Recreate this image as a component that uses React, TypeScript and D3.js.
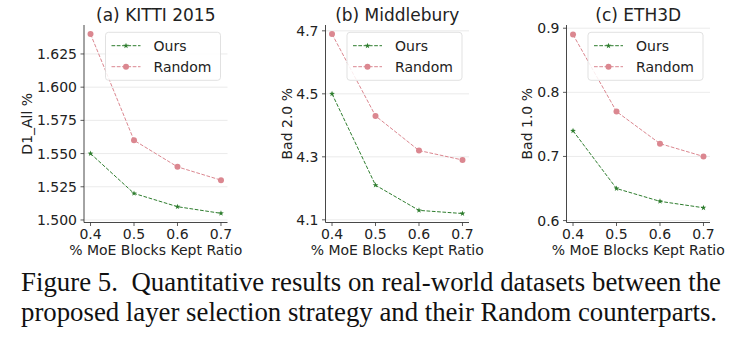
import React from "react";
import * as d3 from "d3";

const ratios = [0.4, 0.5, 0.6, 0.7];
const xTickLabels = ["0.4", "0.5", "0.6", "0.7"];

const kittiOurs = [1.55, 1.52, 1.51, 1.505];
const kittiRandom = [1.64, 1.56, 1.54, 1.53];
const kittiTicks = [1.5, 1.525, 1.55, 1.575, 1.6, 1.625];

const middOurs = [4.5, 4.21, 4.13, 4.12];
const middRandom = [4.69, 4.43, 4.32, 4.29];
const middTicks = [4.1, 4.3, 4.5, 4.7];

const ethOurs = [0.74, 0.65, 0.63, 0.62];
const ethRandom = [0.89, 0.77, 0.72, 0.7];
const ethTicks = [0.6, 0.7, 0.8, 0.9];

const titles = ["(a) KITTI 2015", "(b) Middlebury", "(c) ETH3D"];
const yLabels = ["D1_All %", "Bad 2.0 %", "Bad 1.0 %"];
const xLabel = "% MoE Blocks Kept Ratio";
const seriesNames = ["Ours", "Random"];
const captionLines = [
  "Figure 5.  Quantitative results on real-world datasets between the",
  "proposed layer selection strategy and their Random counterparts.",
];

const GREEN = "#2e7d2e";
const PINK = "#db8790";
const FONT = "DejaVu Sans, sans-serif";
const SERIF = "Liberation Serif, Times New Roman, serif";

type Panel = {
  left: number;
  ours: number[];
  random: number[];
  ticks: number[];
  domain: [number, number];
  fmt: string;
  title: string;
  ylabel: string;
  ylabelX: number;
};

const panels: Panel[] = [
  { left: 84, ours: kittiOurs, random: kittiRandom, ticks: kittiTicks, domain: [1.4981, 1.6468], fmt: ".3f", title: titles[0], ylabel: yLabels[0], ylabelX: 27 },
  { left: 325.5, ours: middOurs, random: middRandom, ticks: middTicks, domain: [4.0915, 4.7185], fmt: ".1f", title: titles[1], ylabel: yLabels[1], ylabelX: 287 },
  { left: 566.5, ours: ethOurs, random: ethRandom, ticks: ethTicks, domain: [0.597, 0.905], fmt: ".1f", title: titles[2], ylabel: yLabels[2], ylabelX: 527 },
];

const TOP = 25;
const BOTTOM = 222.5;
const W = 143.5;

function star(cx: number, cy: number, r: number) {
  const pts: string[] = [];
  for (let i = 0; i < 10; i++) {
    const a = -Math.PI / 2 + (i * Math.PI) / 5;
    const rr = i % 2 === 0 ? r : r * 0.4;
    pts.push(`${cx + rr * Math.cos(a)},${cy + rr * Math.sin(a)}`);
  }
  return pts.join(" ");
}

function PanelView({ p }: { p: Panel }) {
  const x = d3.scaleLinear().domain([0.385, 0.715]).range([p.left, p.left + W]);
  const y = d3.scaleLinear().domain(p.domain).range([BOTTOM, TOP]);
  const line = d3
    .line<number>()
    .x((_, i) => x(ratios[i]))
    .y((d) => y(d));
  const fmt = d3.format(p.fmt);
  const cx = p.left + W / 2;
  const lgW = 115;
  const lgLeft = p.left + W - 7 - lgW;
  const lgTop = 32.3;
  return (
    <g>
      {p.ticks.map((t) => (
        <line key={"g" + t} x1={p.left} x2={p.left + W} y1={y(t)} y2={y(t)} stroke="#e6e6e6" strokeWidth={0.8} />
      ))}
      <line x1={p.left} x2={p.left} y1={TOP} y2={BOTTOM} stroke="#333" strokeWidth={0.9} />
      <line x1={p.left} x2={p.left + W} y1={BOTTOM} y2={BOTTOM} stroke="#333" strokeWidth={0.9} />
      {p.ticks.map((t) => (
        <g key={"t" + t}>
          <line x1={p.left - 3.5} x2={p.left} y1={y(t)} y2={y(t)} stroke="#333" strokeWidth={0.8} />
          <text x={p.left - 7} y={y(t)} dy="0.36em" textAnchor="end" fontSize={14} fontFamily={FONT} fill="#222">
            {fmt(t)}
          </text>
        </g>
      ))}
      {ratios.map((r, i) => (
        <g key={"x" + r}>
          <line x1={x(r)} x2={x(r)} y1={BOTTOM} y2={BOTTOM + 3.5} stroke="#333" strokeWidth={0.8} />
          <text x={x(r)} y={239} textAnchor="middle" fontSize={14} fontFamily={FONT} fill="#222">
            {xTickLabels[i]}
          </text>
        </g>
      ))}
      <text x={cx} y={255} textAnchor="middle" fontSize={14} fontFamily={FONT} fill="#222">
        {xLabel}
      </text>
      <text x={cx} y={21} textAnchor="middle" fontSize={17} fontFamily={FONT} fill="#222">
        {p.title}
      </text>
      <text
        transform={`translate(${p.ylabelX},${(TOP + BOTTOM) / 2}) rotate(-90)`}
        textAnchor="middle"
        dy="0.36em"
        fontSize={14}
        fontFamily={FONT}
        fill="#222"
      >
        {p.ylabel}
      </text>
      <path d={line(p.random) || ""} fill="none" stroke={PINK} strokeWidth={1} strokeDasharray="3.7,1.6" />
      <path d={line(p.ours) || ""} fill="none" stroke={GREEN} strokeWidth={1} strokeDasharray="3.7,1.6" />
      {p.random.map((v, i) => (
        <circle key={"r" + i} cx={x(ratios[i])} cy={y(v)} r={3} fill={PINK} />
      ))}
      {p.ours.map((v, i) => (
        <polygon key={"o" + i} points={star(x(ratios[i]), y(v), 3)} fill={GREEN} />
      ))}
      <rect x={lgLeft} y={lgTop} width={lgW} height={48} rx={3} fill="white" fillOpacity={0.85} stroke="#d9d9d9" strokeWidth={0.8} />
      <line x1={lgLeft + 6} x2={lgLeft + 35} y1={lgTop + 13.4} y2={lgTop + 13.4} stroke={GREEN} strokeWidth={1} strokeDasharray="3.7,1.6" />
      <polygon points={star(lgLeft + 20.5, lgTop + 13.4, 3)} fill={GREEN} />
      <text x={lgLeft + 48} y={lgTop + 13.4} dy="0.36em" fontSize={14} fontFamily={FONT} fill="#222">
        {seriesNames[0]}
      </text>
      <line x1={lgLeft + 6} x2={lgLeft + 35} y1={lgTop + 34.4} y2={lgTop + 34.4} stroke={PINK} strokeWidth={1} strokeDasharray="3.7,1.6" />
      <circle cx={lgLeft + 20.5} cy={lgTop + 34.4} r={3} fill={PINK} />
      <text x={lgLeft + 48} y={lgTop + 34.4} dy="0.36em" fontSize={14} fontFamily={FONT} fill="#222">
        {seriesNames[1]}
      </text>
    </g>
  );
}

export default function App() {
  return (
    <svg width={739} height={337} style={{ position: "absolute", left: 0, top: 0, background: "white" }}>
      <rect x={0} y={0} width={739} height={337} fill="white" />
      {panels.map((p, i) => (
        <PanelView key={i} p={p} />
      ))}
      <text x={21} y={291} fontSize={26.8} fontFamily={SERIF} fill="#111" textLength={700} lengthAdjust="spacing" style={{ whiteSpace: "pre" }}>
        {captionLines[0]}
      </text>
      <text x={21} y={321} fontSize={26.8} fontFamily={SERIF} fill="#111" textLength={696} lengthAdjust="spacing">
        {captionLines[1]}
      </text>
    </svg>
  );
}
